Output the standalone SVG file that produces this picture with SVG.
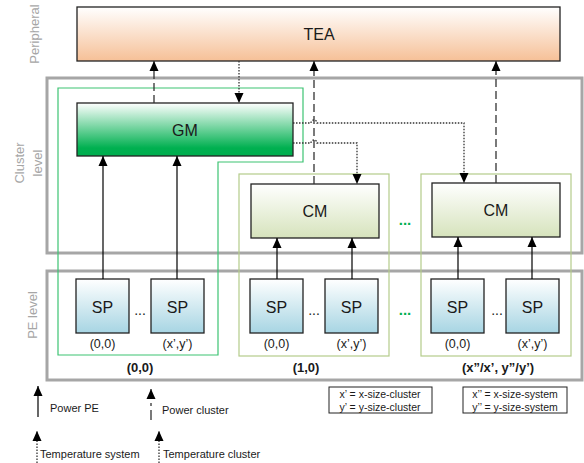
<svg xmlns="http://www.w3.org/2000/svg" width="584" height="463" viewBox="0 0 584 463">
<defs>
<linearGradient id="gTea" x1="0" y1="0" x2="0" y2="1"><stop offset="0" stop-color="#ffffff"/><stop offset="1" stop-color="#f6c097"/></linearGradient>
<linearGradient id="gGm" x1="0" y1="0" x2="0" y2="1"><stop offset="0" stop-color="#ffffff"/><stop offset="0.85" stop-color="#00b050"/><stop offset="1" stop-color="#00ad4e"/></linearGradient>
<linearGradient id="gCm" x1="0" y1="0" x2="0" y2="1"><stop offset="0" stop-color="#ffffff"/><stop offset="1" stop-color="#d6e3bc"/></linearGradient>
<linearGradient id="gSp" x1="0" y1="0" x2="0" y2="1"><stop offset="0" stop-color="#ffffff"/><stop offset="1" stop-color="#a7d5e3"/></linearGradient>
<marker id="ah" markerUnits="userSpaceOnUse" markerWidth="10" markerHeight="10" refX="10" refY="5" orient="auto"><path d="M0,0.5 L10,5 L0,9.5 z" fill="#000"/></marker>
</defs>
<style>
text{font-family:"Liberation Sans",Arial,sans-serif;fill:#1a1a1a}
.side{fill:#a6a6a6;font-size:13px}
.lvl{fill:none;stroke:#a6a6a6;stroke-width:3}
.box{stroke:#222;stroke-width:1.3}
.t14{font-size:16px;text-anchor:middle}
.t11{font-size:12.5px;text-anchor:middle}
.dt{font-size:14px;text-anchor:middle}
.gd{font-size:15px;font-weight:bold;text-anchor:middle;fill:#00b050}
.b{font-size:13px;font-weight:bold;text-anchor:middle}
.sol{stroke:#000;stroke-width:1.2;fill:none;marker-end:url(#ah)}
.dash{stroke:#333;stroke-width:1.3;fill:none;stroke-dasharray:8 4;marker-end:url(#ah)}
.dot{stroke:#333;stroke-width:1.3;fill:none;stroke-dasharray:1.5 1.5;marker-end:url(#ah)}
.leg{font-size:11px}
.lb{font-size:10.5px;text-anchor:middle}
</style>
<g id="labels">
<text class="side" transform="translate(39,34) rotate(-90)" text-anchor="middle">Peripheral</text>
<text class="side" transform="translate(24,163) rotate(-90)" text-anchor="middle">Cluster</text>
<text class="side" transform="translate(42,163) rotate(-90)" text-anchor="middle">level</text>
<text class="side" transform="translate(37,315) rotate(-90)" text-anchor="middle">PE level</text>
</g>
<g id="cluster-level"><rect class="lvl" x="47" y="78" width="535" height="175"/></g>
<g id="pe-level"><rect class="lvl" x="47" y="271" width="535" height="109"/></g>
<g id="cluster00"><path d="M58,88 H303 V162 H218 V355 H58 Z" fill="none" stroke="#3cc372" stroke-width="1.2"/></g>
<g id="cluster10"><rect x="239" y="174" width="150" height="182" fill="none" stroke="#b4cc8a" stroke-width="1.2"/></g>
<g id="clusterxy"><rect x="421" y="174" width="150" height="182" fill="none" stroke="#b4cc8a" stroke-width="1.2"/></g>
<g id="tea"><rect class="box" x="77" y="7" width="483" height="54" fill="url(#gTea)" stroke="#594a3e"/><text class="t14" x="319" y="40">TEA</text></g>
<g id="gm"><rect class="box" x="77" y="103" width="216" height="53" fill="url(#gGm)"/><text class="t14" x="185" y="136">GM</text></g>
<g id="cm1"><rect class="box" x="251" y="184" width="128" height="54" fill="url(#gCm)"/><text class="t14" x="315" y="217">CM</text></g>
<g id="cm2"><rect class="box" x="432" y="183" width="128" height="54" fill="url(#gCm)"/><text class="t14" x="496" y="216">CM</text></g>
<g id="sp1"><rect class="box" x="76" y="279" width="53" height="54" fill="url(#gSp)"/><text class="t14" x="102.5" y="313">SP</text><text class="t11" x="102.5" y="348">(0,0)</text></g>
<g id="sp2"><rect class="box" x="151" y="279" width="53" height="54" fill="url(#gSp)"/><text class="t14" x="177.5" y="313">SP</text><text class="t11" x="177.5" y="348">(x’,y’)</text></g>
<g id="sp3"><rect class="box" x="250" y="279" width="53" height="54" fill="url(#gSp)"/><text class="t14" x="276.5" y="313">SP</text><text class="t11" x="276.5" y="348">(0,0)</text></g>
<g id="sp4"><rect class="box" x="325" y="279" width="53" height="54" fill="url(#gSp)"/><text class="t14" x="351.5" y="313">SP</text><text class="t11" x="351.5" y="348">(x’,y’)</text></g>
<g id="sp5"><rect class="box" x="431" y="279" width="53" height="54" fill="url(#gSp)"/><text class="t14" x="457.5" y="313">SP</text><text class="t11" x="457.5" y="348">(0,0)</text></g>
<g id="sp6"><rect class="box" x="506" y="279" width="53" height="54" fill="url(#gSp)"/><text class="t14" x="532.5" y="313">SP</text><text class="t11" x="532.5" y="348">(x’,y’)</text></g>
<g id="dots">
<text class="dt" x="140" y="315">...</text>
<text class="dt" x="314" y="315">...</text>
<text class="dt" x="497" y="315">...</text>
<text class="gd" x="405" y="225">...</text>
<text class="gd" x="405" y="315">...</text>
<text class="b" x="140" y="372">(0,0)</text>
<text class="b" x="306" y="372">(1,0)</text>
<text class="b" x="498" y="372">(x”/x’, y”/y’)</text>
</g>
<g id="connectors">
<line class="sol" x1="103" y1="279" x2="103" y2="156"/>
<line class="sol" x1="177" y1="279" x2="177" y2="156"/>
<line class="sol" x1="277" y1="279" x2="277" y2="238"/>
<line class="sol" x1="352" y1="279" x2="352" y2="238"/>
<line class="sol" x1="458" y1="279" x2="458" y2="237"/>
<line class="sol" x1="532" y1="279" x2="532" y2="237"/>
<line class="dash" x1="154" y1="103" x2="154" y2="61"/>
<line class="dash" x1="314" y1="184" x2="314" y2="61"/>
<line class="dash" x1="496" y1="183" x2="496" y2="61"/>
<line class="dot" x1="239" y1="61" x2="239" y2="103"/>
<path class="dot" d="M293,123 H311 A3,3 0 0 1 317,123 H464 V183"/>
<path class="dot" d="M293,143 H311 A3,3 0 0 1 317,143 H357 V184"/>
</g>
<g id="legend">
<line class="sol" x1="38" y1="417" x2="38" y2="386"/>
<text class="leg" x="50" y="412">Power PE</text>
<line class="dash" x1="151" y1="420" x2="151" y2="389" style="stroke-dasharray:10 4 3 4"/>
<text class="leg" x="162" y="414">Power cluster</text>
<line class="dot" x1="37" y1="463" x2="37" y2="431"/>
<text class="leg" x="40" y="458">Temperature system</text>
<line class="dot" x1="159" y1="463" x2="159" y2="431"/>
<text class="leg" x="163" y="458">Temperature cluster</text>
<rect x="329" y="387" width="103" height="26" fill="none" stroke="#222" stroke-width="1"/>
<text class="lb" x="380" y="398">x’ = x-size-cluster</text>
<text class="lb" x="380" y="411">y’ = y-size-cluster</text>
<rect x="463" y="387" width="104" height="26" fill="none" stroke="#222" stroke-width="1"/>
<text class="lb" x="515" y="398">x’’ = x-size-system</text>
<text class="lb" x="515" y="411">y’’ = y-size-system</text>
</g>
</svg>
